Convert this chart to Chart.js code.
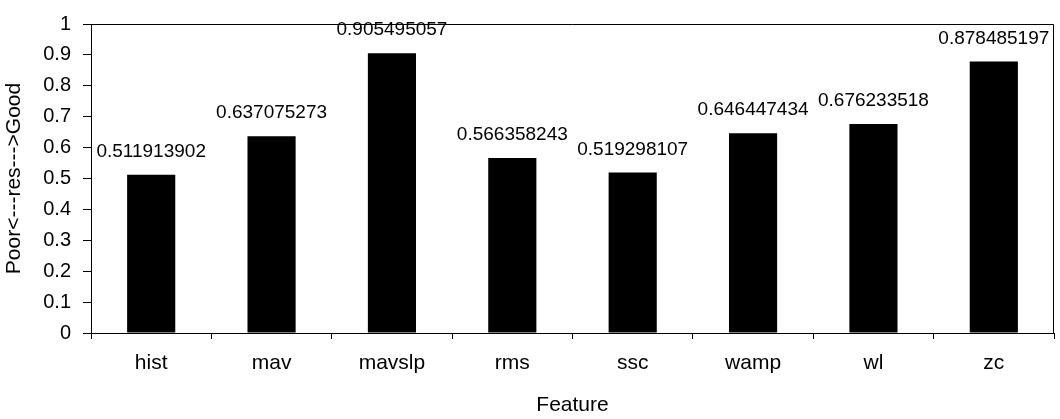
<!DOCTYPE html>
<html>
<head>
<meta charset="utf-8">
<script src="https://cdn.jsdelivr.net/npm/chart.js@4/dist/chart.umd.min.js"></script>
<style>
  html, body { margin: 0; padding: 0; background: #fff; }
  #chart { display: block; }
</style>
</head>
<body>
<canvas id="chart" width="1060" height="419"></canvas>
<script>
const features = ['hist', 'mav', 'mavslp', 'rms', 'ssc', 'wamp', 'wl', 'zc'];
const scores = [0.511913902, 0.637075273, 0.905495057, 0.566358243, 0.519298107, 0.646447434, 0.676233518, 0.878485197];
const yTickLabels = ['0', '0.1', '0.2', '0.3', '0.4', '0.5', '0.6', '0.7', '0.8', '0.9', '1'];

const FONT = "'Liberation Sans', Arial, sans-serif";

// value printed above each bar, plus the box round the plot area
const barValues = {
    id: 'barValues',
    afterDatasetsDraw(chart) {
        const ctx = chart.ctx;
        const meta = chart.getDatasetMeta(0);
        ctx.save();
        ctx.font = '19px ' + FONT;
        ctx.fillStyle = '#000';
        ctx.textAlign = 'center';
        ctx.textBaseline = 'alphabetic';
        meta.data.forEach((bar, i) => {
            ctx.fillText(String(scores[i]), bar.x, bar.y - 18);
        });
        ctx.restore();
    },
    afterDraw(chart) {
        const a = chart.chartArea;
        const ctx = chart.ctx;
        ctx.save();
        ctx.strokeStyle = '#000';
        ctx.lineWidth = 1;
        ctx.beginPath();
        ctx.moveTo(a.left, a.top + 0.5);
        ctx.lineTo(a.right - 0.5, a.top + 0.5);
        ctx.lineTo(a.right - 0.5, a.bottom);
        ctx.stroke();
        ctx.restore();
    }
};

const whiteBg = {
    id: 'whiteBg',
    beforeDraw(chart) {
        const ctx = chart.ctx;
        ctx.save();
        ctx.fillStyle = '#fff';
        ctx.fillRect(0, 0, chart.width, chart.height);
        ctx.restore();
    }
};

new Chart(document.getElementById('chart'), {
    type: 'bar',
    data: {
        labels: features,
        datasets: [{
            data: scores,
            backgroundColor: '#000',
            borderWidth: 0,
            categoryPercentage: 1,
            barPercentage: 0.4
        }]
    },
    options: {
        responsive: false,
        animation: false,
        layout: { padding: { top: 14, right: 6, left: 0, bottom: 0 } },
        plugins: {
            legend: { display: false },
            tooltip: { enabled: false }
        },
        scales: {
            x: {
                offset: true,
                afterFit: (s) => { s.height = 86; },
                grid: {
                    offset: true,
                    drawOnChartArea: false,
                    tickLength: 6,
                    tickColor: '#000'
                },
                border: { display: true, color: '#000', width: 1 },
                ticks: {
                    color: '#000',
                    font: { family: FONT, size: 21 },
                    padding: 12,
                    maxRotation: 0
                },
                title: {
                    display: true,
                    text: 'Feature',
                    color: '#000',
                    font: { family: FONT, size: 21 },
                    padding: { top: 0, bottom: 1 }
                }
            },
            y: {
                min: 0,
                max: 1,
                afterFit: (s) => { s.width = 91; },
                grid: {
                    drawOnChartArea: false,
                    tickLength: 8,
                    tickColor: '#000'
                },
                border: { display: true, color: '#000', width: 1 },
                ticks: {
                    stepSize: 0.1,
                    color: '#000',
                    font: { family: FONT, size: 20 },
                    padding: 12,
                    callback: (v, i) => yTickLabels[i]
                },
                title: {
                    display: true,
                    text: 'Poor<---res--->Good',
                    color: '#000',
                    font: { family: FONT, size: 21 },
                    padding: { top: 2, bottom: 0 }
                }
            }
        }
    },
    plugins: [whiteBg, barValues]
});
</script>
</body>
</html>
